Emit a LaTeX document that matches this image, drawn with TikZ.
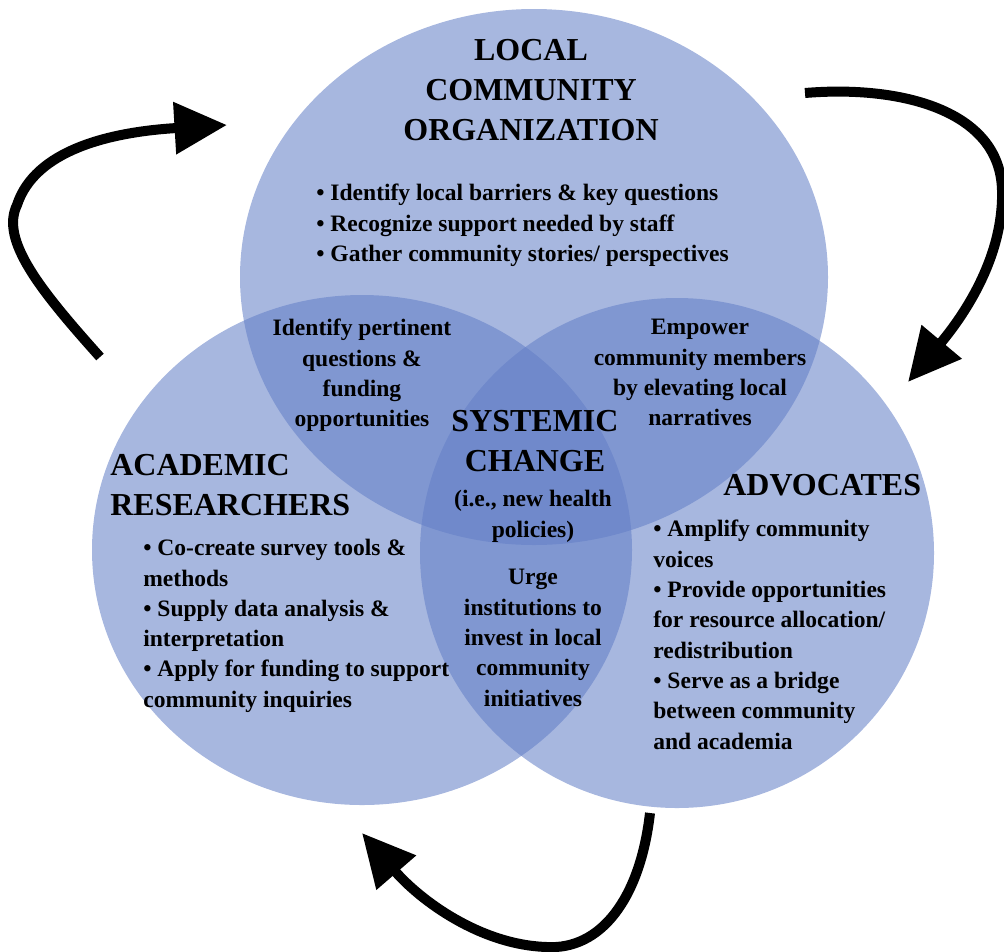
\documentclass[tikz,border=0pt]{standalone}
\usepackage{fontspec}
\setmainfont{Liberation Serif}
\usetikzlibrary{arrows.meta}

\definecolor{vennblue}{RGB}{98,126,198}

\begin{document}
\begin{tikzpicture}[
    x={(0.02cm,0cm)},
    y={(0cm,-0.02cm)},
    line cap=round,
    line join=round,
    disc/.style={fill=vennblue,fill opacity=0.56},
    headtext/.style={font=\fontsize{18.2}{22.8}\selectfont\bfseries,inner sep=0pt},
    bodytext/.style={font=\fontsize{13.4}{17.25}\selectfont\bfseries,inner sep=0pt},
    flowarrow/.style={line width=0.2cm,line cap=butt,
        -{Triangle[length=1.05cm,width=1.0cm]}}
]

% =========================================================
% Рамка рисунка
% =========================================================

\useasboundingbox (0,0) rectangle (1004,951);

% =========================================================
% Центры кругов
% =========================================================

\coordinate (O1) at (534,277);   % верхний круг
\coordinate (O2) at (362,550);   % левый круг
\coordinate (O3) at (677,553);   % правый круг

% =========================================================
% Круги диаграммы
% =========================================================

\fill[disc] (O1) ellipse (294 and 268);
\fill[disc] (O2) ellipse (270 and 255);
\fill[disc] (O3) ellipse (257 and 255);

% =========================================================
% Верхний круг
% =========================================================

\node[headtext,align=center,anchor=north] (T1) at (531,39)
    {LOCAL\\COMMUNITY\\ORGANIZATION};
\node[bodytext,align=left,anchor=north west] (L1) at (316,184)
    {• Identify local barriers \& key questions\\
     • Recognize support needed by staff\\
     • Gather community stories/ perspectives};

% =========================================================
% Левый круг
% =========================================================

\node[headtext,align=left,anchor=north west] (T2) at (110,454)
    {ACADEMIC\\RESEARCHERS};
\node[bodytext,align=left,anchor=north west] (L2) at (143,539)
    {• Co-create survey tools \&\\
     methods\\
     • Supply data analysis \&\\
     interpretation\\
     • Apply for funding to support\\
     community inquiries};

% =========================================================
% Правый круг
% =========================================================

\node[headtext,anchor=north west] (T3) at (723,474) {ADVOCATES};
\node[bodytext,align=left,anchor=north west] (L3) at (653,520)
    {• Amplify community\\
     voices\\
     • Provide opportunities\\
     for resource allocation/\\
     redistribution\\
     • Serve as a bridge\\
     between community\\
     and academia};

% =========================================================
% Пересечения
% =========================================================

\node[bodytext,align=center,anchor=north] (X12) at (362,319)
    {Identify pertinent\\questions \&\\funding\\opportunities};
\node[bodytext,align=center,anchor=north] (X13) at (700,319)
    {Empower\\community members\\by elevating local\\narratives};
\node[bodytext,align=center,anchor=north] (X23) at (533,569)
    {Urge\\institutions to\\invest in local\\community\\initiatives};

% =========================================================
% Центр
% =========================================================

\node[headtext,align=center,anchor=north] (C) at (535,410)
    {SYSTEMIC\\CHANGE};
\node[bodytext,align=center,anchor=north] (Cn) at (533,490)
    {(i.e., new health\\policies)};

% =========================================================
% Стрелки цикла
% =========================================================

\coordinate (A1s) at (100,357);
\coordinate (A1m) at (17,205);
\coordinate (A1e) at (227,125);
\coordinate (A2s) at (805,93);
\coordinate (A2m) at (1002,190);
\coordinate (A2e) at (908,382);
\coordinate (A3s) at (650,813);
\coordinate (A3m) at (547,947);
\coordinate (A3e) at (362,833);

\draw[flowarrow] (A1s) .. controls (40,290) and (0,240) .. (A1m)
    .. controls (35,150) and (110,132) .. (A1e);
\draw[flowarrow] (A2s) .. controls (900,85) and (1000,110) .. (A2m)
    .. controls (1004,260) and (960,320) .. (A2e);
\draw[flowarrow] (A3s) .. controls (640,900) and (600,950) .. (A3m)
    .. controls (480,945) and (420,900) .. (A3e);

\end{tikzpicture}
\end{document}
